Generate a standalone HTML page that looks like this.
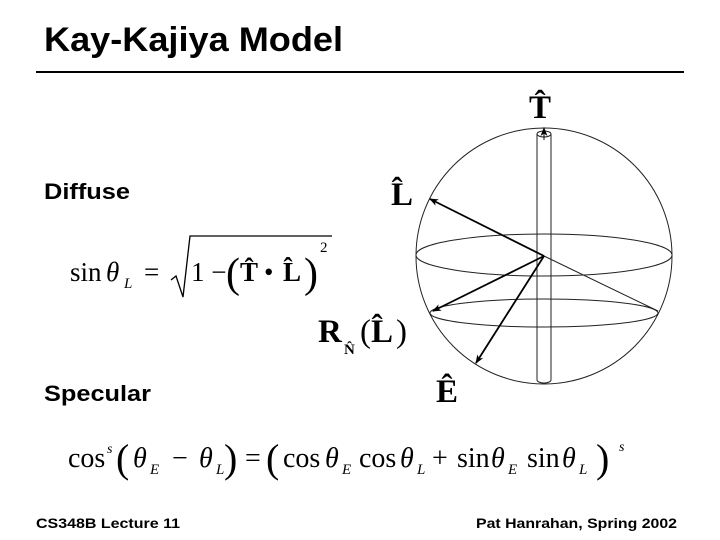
<!DOCTYPE html>
<html><head><meta charset="utf-8"><style>
html,body{margin:0;padding:0;background:#fff}
svg{display:block}
.h{font-family:"Liberation Sans",sans-serif;font-weight:bold}
.m{font-family:"Liberation Serif",serif}
</style></head><body>
<svg width="720" height="540" viewBox="0 0 720 540" xmlns="http://www.w3.org/2000/svg">
<defs>
<marker id="a" markerWidth="9" markerHeight="7" refX="8" refY="3.5" orient="auto" markerUnits="userSpaceOnUse"><path d="M0,0 L9,3.5 L0,7 L2.5,3.5z" fill="#000"/></marker>
</defs>
<text class="h" x="44" y="51" font-size="34" textLength="299" lengthAdjust="spacingAndGlyphs">Kay-Kajiya Model</text>
<rect x="36" y="71" width="648" height="2" fill="#000"/>
<text class="h" x="44" y="199" font-size="22" textLength="86" lengthAdjust="spacingAndGlyphs">Diffuse</text>
<text class="h" x="44" y="401" font-size="22" textLength="107" lengthAdjust="spacingAndGlyphs">Specular</text>
<text class="h" x="36" y="528" font-size="14" textLength="144" lengthAdjust="spacingAndGlyphs">CS348B Lecture 11</text>
<text class="h" x="677" y="528" font-size="14" text-anchor="end" textLength="201" lengthAdjust="spacingAndGlyphs">Pat Hanrahan, Spring 2002</text>

<!-- diffuse formula -->
<g class="m" font-size="27">
<text x="70" y="281">sin</text>
<text x="106" y="281" font-style="italic">θ</text>
<text x="124" y="288" font-size="15" font-style="italic">L</text>
<text x="144" y="281">=</text>
<path d="M171,280 L176,276 L183,297 L190,236 L332,236" fill="none" stroke="#000" stroke-width="1.3"/>
<text x="191" y="281">1 −</text>
<text x="226" y="287" font-size="42">(</text>
<text x="240" y="281" font-weight="bold">T̂</text>
<text x="264" y="281">•</text>
<text x="283" y="281" font-weight="bold">L̂</text>
<text x="304" y="287" font-size="42">)</text>
<text x="320" y="252" font-size="15">2</text>
</g>

<!-- specular formula -->
<g class="m" font-size="28">
<text x="68" y="467">cos</text>
<text x="107" y="453" font-size="14" font-style="italic">s</text>
<text x="116" y="472" font-size="40">(</text>
<text x="133" y="467" font-style="italic">θ</text>
<text x="150" y="474" font-size="15" font-style="italic">E</text>
<text x="172" y="467">−</text>
<text x="199" y="467" font-style="italic">θ</text>
<text x="216" y="474" font-size="15" font-style="italic">L</text>
<text x="224" y="472" font-size="40">)</text>
<text x="245" y="467">=</text>
<text x="266" y="472" font-size="40">(</text>
<text x="283" y="467">cos</text>
<text x="325" y="467" font-style="italic">θ</text>
<text x="342" y="474" font-size="15" font-style="italic">E</text>
<text x="359" y="467">cos</text>
<text x="400" y="467" font-style="italic">θ</text>
<text x="417" y="474" font-size="15" font-style="italic">L</text>
<text x="432" y="467">+</text>
<text x="457" y="467">sin</text>
<text x="491" y="467" font-style="italic">θ</text>
<text x="508" y="474" font-size="15" font-style="italic">E</text>
<text x="527" y="467">sin</text>
<text x="562" y="467" font-style="italic">θ</text>
<text x="579" y="474" font-size="15" font-style="italic">L</text>
<text x="596" y="472" font-size="40">)</text>
<text x="619" y="451" font-size="14" font-style="italic">s</text>
</g>

<!-- diagram -->
<g fill="none" stroke="#222" stroke-width="1">
<circle cx="544" cy="256" r="128"/>
<ellipse cx="544" cy="255" rx="128" ry="21"/>
<ellipse cx="544" cy="313" rx="114" ry="14"/>
<line x1="537" y1="134" x2="537" y2="380"/>
<line x1="551" y1="134" x2="551" y2="380"/>
<ellipse cx="544" cy="134" rx="7" ry="3"/>
<path d="M537,380 A7,3 0 0 0 551,380"/>
<line x1="544" y1="256" x2="658" y2="311"/>
</g>
<g stroke="#000" stroke-width="1.8" fill="none">
<line x1="544" y1="256" x2="430" y2="199" marker-end="url(#a)"/>
<line x1="544" y1="256" x2="433" y2="311" marker-end="url(#a)"/>
<line x1="544" y1="256" x2="476" y2="363" marker-end="url(#a)"/>
<line x1="544" y1="140" x2="544" y2="128" stroke-width="1" marker-end="url(#a)"/>
</g>
<g class="m" font-weight="bold" font-size="33">
<text x="529" y="118">T̂</text>
<text x="391" y="205">L̂</text>
<text x="436" y="402">Ê</text>
<text x="318" y="342">R</text>
<text x="344" y="354" font-size="15">N̂</text>
<text x="360" y="342" font-weight="normal">(</text>
<text x="371" y="342">L̂</text>
<text x="396" y="342" font-weight="normal">)</text>
</g>
</svg>
</body></html>
